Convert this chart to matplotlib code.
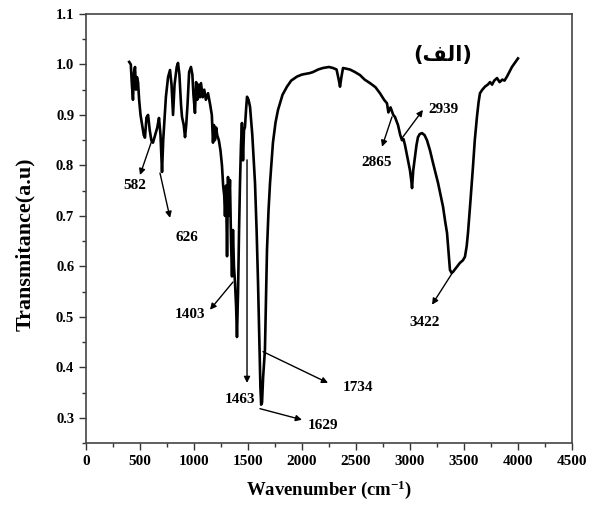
import matplotlib
matplotlib.use("Agg")
import matplotlib.pyplot as plt
from matplotlib.ticker import MultipleLocator, FormatStrFormatter

wavenumber = [400, 415, 425, 435, 445, 454, 463, 472, 482, 492, 505, 520, 535, 546, 560, 575, 590, 605, 620,
              640, 660, 676, 690, 704, 715, 740, 760, 778, 792, 806, 820, 840, 852, 865, 880, 889, 905, 917,
              928, 940, 955, 972, 985, 995, 1009, 1020, 1030, 1045, 1055, 1065, 1080, 1095, 1110, 1130, 1150,
              1165, 1176, 1185, 1194, 1205, 1215, 1230, 1245, 1259, 1270, 1280, 1287, 1297, 1306, 1315, 1322,
              1333, 1343, 1352, 1361, 1370, 1380, 1390, 1398, 1408, 1418, 1426, 1435, 1444, 1454, 1463, 1472,
              1482, 1491, 1505, 1519, 1540, 1565, 1580, 1593, 1605, 1615, 1622, 1630, 1640, 1657, 1668, 1676,
              1690, 1704, 1731, 1755, 1778, 1820, 1861, 1900, 1954, 2000, 2074, 2102, 2150, 2194, 2250, 2287,
              2320, 2340, 2352, 2365, 2380, 2444, 2490, 2537, 2580, 2630, 2680, 2722, 2760, 2787, 2800, 2820,
              2845, 2861, 2889, 2910, 2926, 2940, 2954, 2981, 3000, 3012, 3019, 3030, 3046, 3060, 3074, 3090,
              3111, 3135, 3157, 3185, 3213, 3260, 3306, 3325, 3343, 3360, 3370, 3385, 3398, 3430, 3463, 3490,
              3509, 3525, 3537, 3560, 3583, 3600, 3620, 3635, 3648, 3670, 3694, 3720, 3741, 3760, 3780, 3806,
              3830, 3855, 3875, 3898, 3920, 3944, 3970, 4000]
transmittance = [1.005, 1.000, 0.96, 0.93, 0.985, 0.995, 0.95, 0.975, 0.965, 0.93, 0.90, 0.88, 0.86, 0.855,
                 0.895, 0.90, 0.87, 0.85, 0.845, 0.86, 0.875, 0.894, 0.86, 0.787, 0.85, 0.936, 0.975, 0.989,
                 0.96, 0.90, 0.96, 0.995, 1.003, 0.98, 0.92, 0.896, 0.88, 0.856, 0.88, 0.92, 0.985, 0.995,
                 0.98, 0.94, 0.904, 0.965, 0.93, 0.96, 0.935, 0.963, 0.935, 0.95, 0.93, 0.943, 0.92, 0.90,
                 0.845, 0.88, 0.85, 0.875, 0.86, 0.85, 0.83, 0.80, 0.76, 0.74, 0.70, 0.76, 0.62, 0.777, 0.70,
                 0.771, 0.65, 0.58, 0.672, 0.60, 0.567, 0.52, 0.46, 0.55, 0.68, 0.765, 0.84, 0.884, 0.81,
                 0.87, 0.876, 0.91, 0.936, 0.93, 0.916, 0.86, 0.765, 0.67, 0.567, 0.45, 0.36, 0.326, 0.33,
                 0.38, 0.435, 0.55, 0.633, 0.71, 0.765, 0.845, 0.885, 0.91, 0.94, 0.956, 0.968, 0.976, 0.98,
                 0.983, 0.985, 0.99, 0.993, 0.995, 0.993, 0.99, 0.97, 0.956, 0.975, 0.993, 0.99, 0.985, 0.979,
                 0.97, 0.963, 0.955, 0.943, 0.93, 0.923, 0.905, 0.915, 0.90, 0.896, 0.88, 0.86, 0.85, 0.852,
                 0.84, 0.811, 0.79, 0.77, 0.755, 0.79, 0.817, 0.84, 0.856, 0.862, 0.864, 0.86, 0.85, 0.83,
                 0.805, 0.765, 0.718, 0.69, 0.666, 0.62, 0.593, 0.587, 0.589, 0.598, 0.607, 0.612, 0.619,
                 0.64, 0.666, 0.73, 0.797, 0.85, 0.896, 0.925, 0.943, 0.95, 0.956, 0.96, 0.965, 0.96, 0.968,
                 0.973, 0.965, 0.97, 0.968, 0.976, 0.985, 0.995, 1.003, 1.012]

peak_labels = ["582", "626", "1403", "1463", "1734", "1629", "2865", "2939", "3422"]
label_xy = [(454, 0.761), (935, 0.658), (963, 0.504), (1426, 0.336), (2519, 0.359),
            (2194, 0.284), (2694, 0.805), (3306, 0.910), (3139, 0.488)]
arrow_tail = [(611, 0.850), (685, 0.785), (1361, 0.569), (1491, 0.811), (1639, 0.431),
              (1611, 0.318), (2833, 0.896), (2926, 0.854), (3398, 0.589)]
arrow_head = [(500, 0.781), (778, 0.696), (1148, 0.514), (1491, 0.369), (2241, 0.369),
              (2000, 0.296), (2741, 0.837), (3120, 0.910), (3204, 0.524)]

serif = ["Liberation Serif", "DejaVu Serif"]
plt.rcParams["font.family"] = serif
plt.rcParams["font.weight"] = "bold"
plt.rcParams["mathtext.fontset"] = "custom"
plt.rcParams["mathtext.rm"] = "Liberation Serif:bold"
plt.rcParams["mathtext.it"] = "Liberation Serif:bold"
plt.rcParams["mathtext.bf"] = "Liberation Serif:bold"
plt.rcParams["mathtext.default"] = "rm"

fig = plt.figure(figsize=(5.98, 5.18), dpi=100)
ax = fig.add_axes([0.1438, 0.1448, 0.8127, 0.8282])

ax.plot(wavenumber, transmittance, color="black", lw=1.9, solid_joinstyle="round")

for lab, txy, tail, head in zip(peak_labels, label_xy, arrow_tail, arrow_head):
    ax.annotate("", xy=head, xytext=tail,
                arrowprops=dict(arrowstyle="-|>", color="black", lw=1.0,
                                mutation_scale=9, shrinkA=0, shrinkB=0))
    ax.text(txy[0], txy[1], lab, ha="center", va="center", fontsize=11, fontweight="bold")

ax.text(3306, 1.019, "(\uFED2\uFEDF\uFE8D)", ha="center", va="center", fontsize=15,
        fontweight="bold", family=["DejaVu Sans", "Liberation Serif"])

ax.set_xlim(0, 4500)
ax.set_ylim(0.25, 1.1)
ax.xaxis.set_major_locator(MultipleLocator(500))
ax.xaxis.set_minor_locator(MultipleLocator(250))
ax.yaxis.set_major_locator(MultipleLocator(0.1))
ax.yaxis.set_minor_locator(MultipleLocator(0.05))
ax.yaxis.set_major_formatter(FormatStrFormatter("%.1f"))
ax.tick_params(which="major", direction="out", length=5, width=1.0, color="#333333")
ax.tick_params(axis="x", labelsize=11)
ax.tick_params(axis="y", labelsize=10.5)
ax.tick_params(which="minor", direction="out", length=3, width=1.0, color="#333333")
for s in ax.spines.values():
    s.set_linewidth(1.2)
    s.set_color("#444444")
for t in ax.get_xticklabels() + ax.get_yticklabels():
    t.set_fontweight("bold")

ax.set_xlabel("Wavenumber (cm$^{-1}$)", fontsize=13.5, fontweight="bold", labelpad=8)
ax.set_ylabel("Transmitance(a.u)", fontsize=15.8, fontweight="bold")
ax.yaxis.set_label_coords(-0.105, 0.464)

fig.savefig("out.png", dpi=100)
